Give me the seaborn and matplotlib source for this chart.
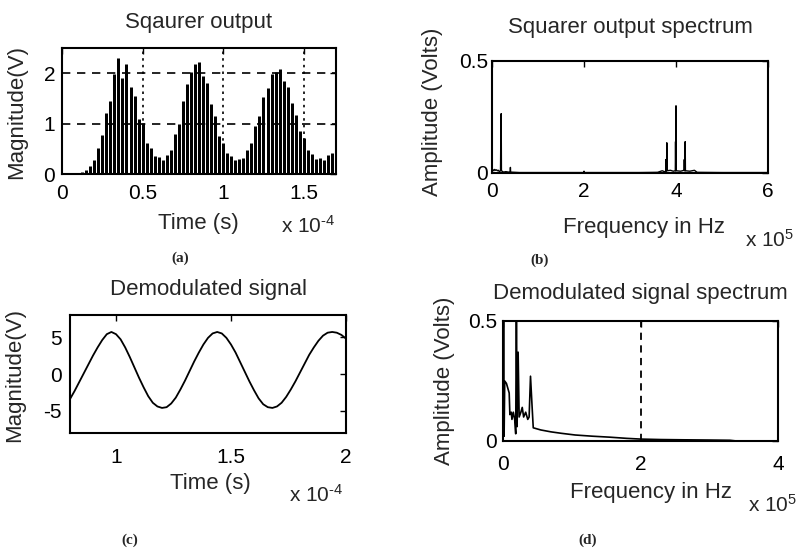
import matplotlib
matplotlib.use("Agg")
import matplotlib.pyplot as plt
import seaborn as sns
import pandas as pd

# time axes are in units of 1e-4 s, frequency axes in units of 1e5 Hz

# (a) squarer output: peak value of each 400 kHz cycle
sq_time = [0.000, 0.025, 0.050, 0.075, 0.100, 0.125, 0.150, 0.175, 0.200, 0.225,
           0.250, 0.275, 0.300, 0.325, 0.350, 0.375, 0.400, 0.425, 0.450, 0.475,
           0.500, 0.525, 0.550, 0.575, 0.600, 0.625, 0.650, 0.675, 0.700, 0.725,
           0.750, 0.775, 0.800, 0.825, 0.850, 0.875, 0.900, 0.925, 0.950, 0.975,
           1.000, 1.025, 1.050, 1.075, 1.100, 1.125, 1.150, 1.175, 1.200, 1.225,
           1.250, 1.275, 1.300, 1.325, 1.350, 1.375, 1.400, 1.425, 1.450, 1.475,
           1.500, 1.525, 1.550, 1.575, 1.600, 1.625, 1.650, 1.675, 1.700]
sq_peak = [0.00, 0.00, 0.00, 0.00, 0.01, 0.03, 0.07, 0.16, 0.28, 0.52,
           0.78, 1.22, 1.45, 1.98, 2.30, 1.90, 2.18, 1.72, 1.55, 1.10,
           1.02, 0.62, 0.52, 0.36, 0.33, 0.28, 0.38, 0.48, 0.80, 1.00,
           1.45, 1.78, 2.02, 2.18, 2.22, 1.95, 1.80, 1.38, 1.15, 0.75,
           0.62, 0.42, 0.36, 0.28, 0.30, 0.32, 0.48, 0.62, 0.95, 1.15,
           1.52, 1.70, 1.98, 2.02, 2.08, 1.85, 1.72, 1.40, 1.18, 0.85,
           0.72, 0.48, 0.40, 0.30, 0.32, 0.28, 0.38, 0.42, 0.58]

# (b) squarer output spectrum
sq_freq = [0.000, 0.020, 0.040, 0.060, 0.080, 0.100, 0.120, 0.140, 0.160, 0.185,
           0.190, 0.195, 0.200, 0.205, 0.250, 0.300, 0.360, 0.395, 0.400, 0.405,
           0.600, 1.000, 1.500, 1.995, 2.000, 2.005, 2.600, 3.200, 3.600, 3.700,
           3.775, 3.780, 3.785, 3.795, 3.800, 3.805, 3.880, 3.940, 3.985, 3.990,
           3.995, 4.000, 4.005, 4.100, 4.175, 4.180, 4.185, 4.195, 4.200, 4.205,
           4.300, 4.400, 4.460, 5.000, 6.000]
sq_amp = [0.012, 0.015, 0.010, 0.016, 0.012, 0.014, 0.010, 0.012, 0.006, 0.010,
          0.130, 0.020, 0.265, 0.010, 0.004, 0.006, 0.004, 0.004, 0.025, 0.004,
          0.002, 0.002, 0.002, 0.002, 0.008, 0.002, 0.002, 0.002, 0.003, 0.010,
          0.004, 0.060, 0.010, 0.010, 0.135, 0.010, 0.012, 0.008, 0.010, 0.140,
          0.010, 0.300, 0.010, 0.008, 0.012, 0.060, 0.010, 0.010, 0.140, 0.010,
          0.008, 0.012, 0.003, 0.002, 0.002]

# (c) demodulated signal
dm_time = [0.80, 0.82, 0.84, 0.86, 0.88, 0.90, 0.92, 0.94, 0.96, 0.98,
           1.00, 1.02, 1.04, 1.06, 1.08, 1.10, 1.12, 1.14, 1.16, 1.18,
           1.20, 1.22, 1.24, 1.26, 1.28, 1.30, 1.32, 1.34, 1.36, 1.38,
           1.40, 1.42, 1.44, 1.46, 1.48, 1.50, 1.52, 1.54, 1.56, 1.58,
           1.60, 1.62, 1.64, 1.66, 1.68, 1.70, 1.72, 1.74, 1.76, 1.78,
           1.80, 1.82, 1.84, 1.86, 1.88, 1.90, 1.92, 1.94, 1.96, 1.98, 2.00]
dm_volt = [-3.4, -2.3, -1.1, 0.1, 1.3, 2.5, 3.6, 4.6, 5.4, 5.7,
           5.4, 4.7, 3.6, 2.3, 0.9, -0.5, -1.8, -3.0, -3.9, -4.4,
           -4.6, -4.5, -4.0, -3.2, -2.1, -0.9, 0.4, 1.7, 2.9, 4.0,
           4.9, 5.5, 5.7, 5.5, 4.9, 4.0, 2.9, 1.6, 0.3, -1.0,
           -2.2, -3.3, -4.1, -4.5, -4.6, -4.4, -3.9, -3.1, -2.1, -1.0,
           0.2, 1.4, 2.6, 3.6, 4.5, 5.2, 5.6, 5.7, 5.6, 5.3, 4.8]

# (d) demodulated signal spectrum
dm_freq = [0.000, 0.008, 0.016, 0.025, 0.050, 0.070, 0.090, 0.100, 0.120, 0.130,
           0.150, 0.170, 0.185, 0.195, 0.205, 0.220, 0.235, 0.260, 0.280, 0.300,
           0.330, 0.360, 0.380, 0.400, 0.420, 0.440, 0.550, 0.700, 0.850, 1.050,
           1.300, 1.550, 1.800, 2.000, 2.300, 2.600, 3.000, 3.300, 3.400, 4.000]
dm_amp = [0.000, 0.600, 0.020, 0.250, 0.240, 0.220, 0.200, 0.110, 0.120, 0.090,
          0.120, 0.090, 0.030, 0.600, 0.060, 0.370, 0.100, 0.120, 0.140, 0.100,
          0.120, 0.090, 0.100, 0.270, 0.160, 0.055, 0.046, 0.038, 0.032, 0.025,
          0.020, 0.016, 0.011, 0.008, 0.006, 0.005, 0.004, 0.003, 0.000, 0.000]

a_xticks, a_xlabels = [0, 0.5, 1, 1.5], ["0", "0.5", "1", "1.5"]
a_yticks, a_ylabels = [0, 1, 2], ["0", "1", "2"]
b_xticks, b_xlabels = [0, 2, 4, 6], ["0", "2", "4", "6"]
b_yticks, b_ylabels = [0, 0.5], ["0", "0.5"]
c_xticks, c_xlabels = [1, 1.5, 2], ["1", "1.5", "2"]
c_yticks, c_ylabels = [-5, 0, 5], ["-5", "0", "5"]
d_xticks, d_xlabels = [0, 2, 4], ["0", "2", "4"]
d_yticks, d_ylabels = [0, 0.5], ["0", "0.5"]

sns.set_style("white")
plt.rcParams["font.family"] = ["Liberation Sans", "DejaVu Sans"]
plt.rcParams["mathtext.fontset"] = "custom"
plt.rcParams["mathtext.rm"] = "Liberation Sans"
plt.rcParams["mathtext.it"] = "Liberation Sans:italic"
plt.rcParams["mathtext.bf"] = "Liberation Sans:bold"

W, H = 805, 557
fig = plt.figure(figsize=(W / 100, H / 100), dpi=100)


def add_axes(left, top, right, bottom):
    # pixel box -> figure fraction
    return fig.add_axes([left / W, 1 - bottom / H, (right - left) / W, (bottom - top) / H])


def finish(ax, xlim, ylim, xt, xl, yt, yl, xpad, ypad):
    ax.set_xlim(*xlim)
    ax.set_ylim(*ylim)
    ax.set_xticks(xt)
    ax.set_xticklabels(xl)
    ax.set_yticks(yt)
    ax.set_yticklabels(yl)
    ax.tick_params(direction="in", top=True, right=True, length=4, width=1,
                   labelsize=15, colors="k")
    ax.tick_params(axis="x", pad=xpad)
    ax.tick_params(axis="y", pad=ypad)
    for s in ax.spines.values():
        s.set_linewidth(1.5)
        s.set_color("k")


def labels(ax, title, tpad, xlabel, xlab_xy, ylabel, ylab_xy, expo, expo_xy, expo_ha):
    ax.set_title(title, fontsize=16, pad=tpad)
    ax.set_xlabel(xlabel, fontsize=16)
    ax.xaxis.set_label_coords(*xlab_xy)
    ax.set_ylabel(ylabel, fontsize=16)
    ax.yaxis.set_label_coords(*ylab_xy)
    ax.text(expo_xy[0], expo_xy[1], expo, transform=ax.transAxes,
            ha=expo_ha, va="baseline", fontsize=15)


# (a) Squarer output
ax_a = add_axes(62, 48, 336, 174)
ax_a.vlines(sq_time, 0, sq_peak, color="k", linewidth=2.15)
finish(ax_a, (0, 1.7), (0, 2.5), a_xticks, a_xlabels, a_yticks, a_ylabels, 7.5, 5)
ax_a.xaxis.grid(True, linestyle=(0, (1.5, 2.5)), color="k", linewidth=1.2)
ax_a.yaxis.grid(True, linestyle=(0, (5, 4)), color="k", linewidth=1.2)
labels(ax_a, "Sqaurer output", 14.4, "Time (s)", (0.496, -0.31),
       "Magnitude(V)", (-0.128, 0.49), r"x 10$^{\text{-}4}$", (0.996, -0.468), "right")

# (b) Squarer output spectrum
ax_b = add_axes(492, 61, 768, 173)
sns.lineplot(x=sq_freq, y=sq_amp, ax=ax_b, color="k", linewidth=1.0,
             estimator=None, sort=False)
finish(ax_b, (0, 6), (0, 0.5), b_xticks, b_xlabels, b_yticks, b_ylabels, 6.5, 3)
labels(ax_b, "Squarer output spectrum", 20, "Frequency in Hz", (0.551, -0.393),
       "Amplitude (Volts)", (-0.178, 0.55), r"x 10$^{5}$", (0.917, -0.661), "left")

# (c) Demodulated signal
ax_c = add_axes(70, 315, 346, 433)
demod = pd.DataFrame({"t": dm_time, "v": dm_volt})
sns.lineplot(data=demod, x="t", y="v", ax=ax_c, color="k", linewidth=1.3)
finish(ax_c, (0.8, 2), (-8, 8), c_xticks, c_xlabels, c_yticks, c_ylabels, 10.5, 6)
labels(ax_c, "Demodulated signal", 14.4, "Time (s)", (0.507, -0.339),
       "Magnitude(V)", (-0.163, 0.49), r"x 10$^{\text{-}4}$", (0.989, -0.585), "right")

# (d) Demodulated signal spectrum
ax_d = add_axes(503, 321, 778, 441)
sns.lineplot(x=dm_freq, y=dm_amp, ax=ax_d, color="k", linewidth=1.2,
             estimator=None, sort=False)
finish(ax_d, (0, 4), (0, 0.5), d_xticks, d_xlabels, d_yticks, d_ylabels, 10, 4.5)
ax_d.xaxis.grid(True, linestyle=(0, (4, 3)), color="k", linewidth=1.3)
labels(ax_d, "Demodulated signal spectrum", 16, "Frequency in Hz", (0.538, -0.342),
       "Amplitude (Volts)", (-0.175, 0.5), r"x 10$^{5}$", (0.891, -0.592), "left")

# panel captions
for cap, (px, py) in zip(["(a)", "(b)", "(c)", "(d)"],
                         [(180, 258), (540, 260), (130, 540), (588, 540)]):
    fig.text(px / W, 1 - py / H, cap, ha="center", va="center", fontsize=11,
             fontweight="bold", family=["Liberation Serif", "DejaVu Serif"])

fig.savefig("out.png", dpi=100)
